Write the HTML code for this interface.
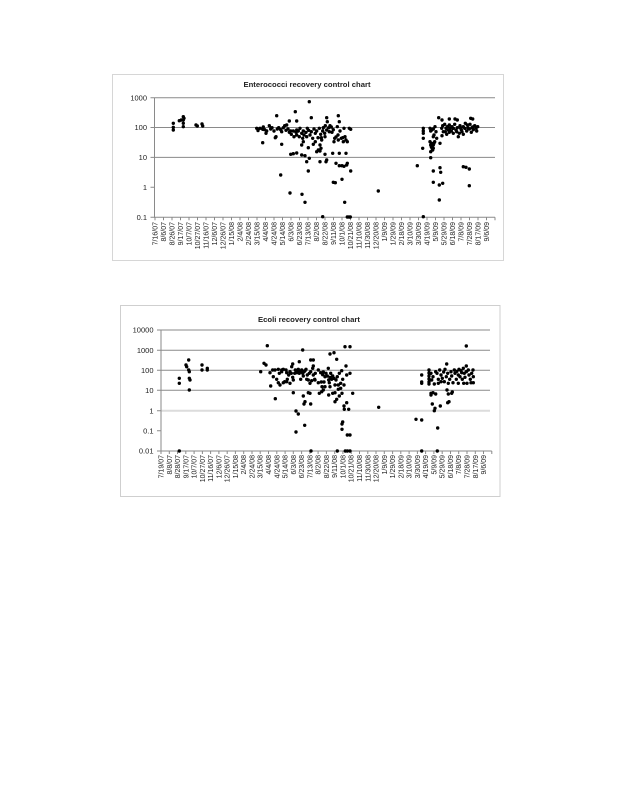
<!DOCTYPE html>
<html><head><meta charset="utf-8"><style>
html,body{margin:0;padding:0;background:#fff;width:618px;height:800px;overflow:hidden}
svg{position:absolute;left:0;top:0}
text{font-family:"Liberation Sans",sans-serif;fill:#222}
.xl{font-size:7px;text-anchor:end}
.yl{font-size:7.5px;text-anchor:end}
.t{font-size:7.5px;font-weight:bold;text-anchor:middle}
</style></head><body>
<svg width="618" height="800" viewBox="0 0 618 800" xmlns="http://www.w3.org/2000/svg">
<!-- Chart 1 -->
<rect x="112.5" y="74.5" width="391" height="186" fill="#fff" stroke="#d6d6d6" stroke-width="1"/>
<text class="t" x="307" y="87" textLength="127" lengthAdjust="spacingAndGlyphs">Enterococci recovery control chart</text>
<g stroke="#8a8a8a" stroke-width="1" fill="none">
<path d="M154.5 97.7H495M154.5 127.5H495M154.5 157.4H495"/>
<path d="M154.5 97.7V217.3H495"/>
<path d="M150.5 97.7h4M150.5 127.5h4M150.5 157.4h4M150.5 187.3h4M150.5 217.3h4"/>
<path d="M155 217.3v3M163.5 217.3v3M172 217.3v3M180.5 217.3v3M189 217.3v3M197.5 217.3v3M206 217.3v3M214.5 217.3v3M223 217.3v3M231.5 217.3v3M240 217.3v3M248.5 217.3v3M257 217.3v3M265.5 217.3v3M274 217.3v3M282.5 217.3v3M291 217.3v3M299.5 217.3v3M308 217.3v3M316.5 217.3v3M325 217.3v3M333.5 217.3v3M342 217.3v3M350.5 217.3v3M359 217.3v3M367.5 217.3v3M376 217.3v3M384.5 217.3v3M393 217.3v3M401.5 217.3v3M410 217.3v3M418.5 217.3v3M427 217.3v3M435.5 217.3v3M444 217.3v3M452.5 217.3v3M461 217.3v3M469.5 217.3v3M478 217.3v3M486.5 217.3v3M495 217.3v3"/>
</g>
<text class="yl" x="147" y="100.3">1000</text>
<text class="yl" x="147" y="130.1">100</text>
<text class="yl" x="147" y="160">10</text>
<text class="yl" x="147" y="189.9">1</text>
<text class="yl" x="147" y="219.9">0.1</text>
<g class="xl">
<text transform="translate(157.5,222) rotate(-90)">7/16/07</text>
<text transform="translate(166,222) rotate(-90)">8/6/07</text>
<text transform="translate(174.5,222) rotate(-90)">8/26/07</text>
<text transform="translate(183,222) rotate(-90)">9/17/07</text>
<text transform="translate(191.5,222) rotate(-90)">10/7/07</text>
<text transform="translate(200,222) rotate(-90)">10/27/07</text>
<text transform="translate(208.5,222) rotate(-90)">11/16/07</text>
<text transform="translate(217,222) rotate(-90)">12/6/07</text>
<text transform="translate(225.5,222) rotate(-90)">12/26/07</text>
<text transform="translate(234,222) rotate(-90)">1/15/08</text>
<text transform="translate(242.5,222) rotate(-90)">2/4/08</text>
<text transform="translate(251,222) rotate(-90)">2/24/08</text>
<text transform="translate(259.5,222) rotate(-90)">3/15/08</text>
<text transform="translate(268,222) rotate(-90)">4/4/08</text>
<text transform="translate(276.5,222) rotate(-90)">4/24/08</text>
<text transform="translate(285,222) rotate(-90)">5/14/08</text>
<text transform="translate(293.5,222) rotate(-90)">6/3/08</text>
<text transform="translate(302,222) rotate(-90)">6/23/08</text>
<text transform="translate(310.5,222) rotate(-90)">7/13/08</text>
<text transform="translate(319,222) rotate(-90)">8/2/08</text>
<text transform="translate(327.5,222) rotate(-90)">8/22/08</text>
<text transform="translate(336,222) rotate(-90)">9/11/08</text>
<text transform="translate(344.5,222) rotate(-90)">10/1/08</text>
<text transform="translate(353,222) rotate(-90)">10/21/08</text>
<text transform="translate(361.5,222) rotate(-90)">11/10/08</text>
<text transform="translate(370,222) rotate(-90)">11/30/08</text>
<text transform="translate(378.5,222) rotate(-90)">12/20/08</text>
<text transform="translate(387,222) rotate(-90)">1/9/09</text>
<text transform="translate(395.5,222) rotate(-90)">1/29/09</text>
<text transform="translate(404,222) rotate(-90)">2/18/09</text>
<text transform="translate(412.5,222) rotate(-90)">3/10/09</text>
<text transform="translate(421,222) rotate(-90)">3/30/09</text>
<text transform="translate(429.5,222) rotate(-90)">4/19/09</text>
<text transform="translate(438,222) rotate(-90)">5/9/09</text>
<text transform="translate(446.5,222) rotate(-90)">5/29/09</text>
<text transform="translate(455,222) rotate(-90)">6/18/09</text>
<text transform="translate(463.5,222) rotate(-90)">7/8/09</text>
<text transform="translate(472,222) rotate(-90)">7/28/09</text>
<text transform="translate(480.5,222) rotate(-90)">8/17/09</text>
<text transform="translate(489,222) rotate(-90)">9/6/09</text>
</g>
<path fill="none" stroke="#000" stroke-width="3.4" stroke-linecap="round" d="
M173.3 123.3h0M173.3 127.3h0M173.3 130h0M179.3 120.7h0M181.3 120h0M183.3 116.7h0M183.3 120h0M183.3 123.3h0M183.3 126.7h0M184 118.3h0M196 125h0M197.3 126h0M202 124h0M202.7 126h0
M309.3 101.7h0M295.3 111.7h0M276.7 115.7h0M311.3 117.7h0M338.3 115.7h0M326.7 117.7h0M289.3 121h0M296.7 121h0M262.7 142.7h0M281.7 144.3h0M301.7 145h0M313.3 144.3h0M320 145h0M321 148.3h0M318.3 150h0M308.3 147.7h0M290.7 154.3h0M293.3 153.7h0M296.7 153h0M301.7 155h0M305 155.7h0M316.7 151.7h0M320 151h0M325 154.3h0M332.7 153.3h0M339.3 153.3h0M346 153.3h0M309.3 158.3h0M306.7 161.7h0M320 161.7h0M326 161.7h0M326.7 160h0M336 163.3h0M339.3 165.7h0M342 165.7h0M344 166.3h0M346.7 165h0M347.3 163.3h0M350.7 171h0M308.3 171h0M280.7 175h0M342 179.3h0M333.3 182.3h0M335.3 182.7h0M290 193h0M302 194.3h0M305 202.3h0M344.7 202.3h0M322.7 216.7h0M347.3 217h0M349 217h0M350.3 217h0
M260 128.3h0M262.7 129.3h0M266 133.3h0M266.7 131h0M269.3 125.7h0M270.7 129h0M274 131h0M275.3 137.7h0M276 136.7h0M277.3 129h0M278.7 127.7h0M280.7 129.7h0M283.3 127.7h0M284.7 125.7h0M286 130.3h0M288 129h0M289.3 132.3h0M290.7 131h0M291.3 134.3h0M293.3 131h0M294 136.7h0M296 132.3h0M296.7 135h0M298.3 131h0M299.3 136.7h0M301.7 133.3h0M302.7 138.3h0M303.3 131h0M304 135h0M306 132.3h0M306.7 136.7h0M308.7 130.3h0M310 135h0M311.3 131.7h0M312.7 138.3h0M314 129h0M315.3 133.3h0M316.7 131h0M318 137.7h0M319.3 128.3h0M320.7 134.3h0M321.3 137.7h0M322.7 131h0M323.3 127.7h0M324.7 133.3h0M325.3 125.7h0M326.7 130h0M327.3 121.7h0M328.7 127.7h0M329.3 131.7h0M330 125.7h0M331.3 127h0M332 132.3h0M333.3 129.7h0M334.7 138.3h0M336 137h0M337.3 126.7h0M338 135h0M339.3 121.7h0M340 131h0M341.3 138.3h0M342.7 137.7h0M344 128.3h0M345 136.7h0M346 140h0M347.3 141.7h0M349.3 128.3h0M350.7 129.3h0M334 141.7h0M338.3 140h0M343.3 141.7h0M325 136.7h0M321.7 140h0M315.3 141.7h0M303.3 141.7h0M296.7 130h0M286.7 125h0M281.7 131.7h0M272 127.7h0M264.7 129.7h0M263.3 127h0M300 128.3h0M307.3 128.3h0M256.7 128.3h0M258 130.5h0
M378.3 191h0
M417.3 165.7h0M423.3 128.3h0M423.3 131h0M423.3 133.3h0M423.3 138.3h0M422.7 148.3h0M423.3 216.7h0M430 128.3h0M430.7 131h0M431.7 130h0M433.3 129h0M435 126.7h0M436 131.7h0M434 135h0M433.3 136.7h0M430 141.7h0M430.7 145h0M431.3 146.7h0M432 148.3h0M432.7 150h0M433.3 145h0M434 143.3h0M434.7 141.7h0M430.7 151.7h0M433.3 148.3h0M431.7 143.3h0M430.7 157.7h0M433.3 171h0M440 167.7h0M440.7 172.3h0M433.3 182.3h0M439.3 185h0M442.7 183.3h0M439.3 200h0M438.7 117.7h0M442 120h0M449.3 119h0M455 119h0M457.3 120h0M470.7 118.3h0M472.7 119h0M440 143.3h0M436.7 138.3h0M463.3 166.7h0M466 167.3h0M469.3 169h0M469.3 185.7h0
M441.7 128.3h0M442.7 125.7h0M443.3 131.7h0M444.7 124.3h0M446 128.3h0M447.3 126.7h0M448.3 130h0M449.3 125h0M450 128.3h0M451.3 131h0M452 126.7h0M453.3 128.3h0M454.7 124.3h0M456 130h0M457.3 127.7h0M458.3 136.7h0M459.3 133.3h0M460 125.7h0M461.3 129.7h0M462 131.7h0M463.3 126.7h0M464.7 128.3h0M465.3 123.3h0M466.7 131h0M468 127.7h0M469.3 129h0M470 124.3h0M471.3 132.3h0M472.7 127h0M473.3 129.7h0M474.7 125.7h0M476 128.3h0M476.7 131h0M477.7 126.7h0M446.7 134.3h0M453.3 133.3h0M463.3 134.3h0M467.3 125h0M472 127.7h0M442 135.7h0M460.7 128.3h0M456.7 131.7h0M449.3 132.3h0M445.3 131.7h0"/>

<!-- Chart 2 -->
<rect x="120.5" y="305.5" width="379.5" height="191" fill="#fff" stroke="#cfcfcf" stroke-width="1"/>
<text class="t" x="309" y="322" textLength="102" lengthAdjust="spacingAndGlyphs">Ecoli  recovery control chart</text>
<path d="M161 410.7H490" stroke="#dcdcdc" stroke-width="2"/>
<g stroke="#8a8a8a" stroke-width="1" fill="none">
<path d="M161 330H490M161 350.2H490M161 370.3H490M161 390.3H490"/>
<path d="M161 330V451H491.8"/>
<path d="M157 330h4M157 350.2h4M157 370.3h4M157 390.3h4M157 410.7h4M157 430.7h4M157 451h4"/>
<path d="M161 451v3M169.3 451v3M177.5 451v3M185.8 451v3M194.1 451v3M202.4 451v3M210.6 451v3M218.9 451v3M227.2 451v3M235.4 451v3M243.7 451v3M252 451v3M260.2 451v3M268.5 451v3M276.8 451v3M285.1 451v3M293.3 451v3M301.6 451v3M309.9 451v3M318.1 451v3M326.4 451v3M334.7 451v3M342.9 451v3M351.2 451v3M359.5 451v3M367.8 451v3M376 451v3M384.3 451v3M392.6 451v3M400.8 451v3M409.1 451v3M417.4 451v3M425.6 451v3M433.9 451v3M442.2 451v3M450.5 451v3M458.7 451v3M467 451v3M475.3 451v3M483.5 451v3M491.8 451v3"/>
</g>
<text class="yl" x="153.5" y="332.6">10000</text>
<text class="yl" x="153.5" y="352.8">1000</text>
<text class="yl" x="153.5" y="372.9">100</text>
<text class="yl" x="153.5" y="392.9">10</text>
<text class="yl" x="153.5" y="413.3">1</text>
<text class="yl" x="153.5" y="433.3">0.1</text>
<text class="yl" x="153.5" y="453.6">0.01</text>
<g class="xl">
<text transform="translate(163.5,455) rotate(-90)">7/19/07</text>
<text transform="translate(171.8,455) rotate(-90)">8/8/07</text>
<text transform="translate(180,455) rotate(-90)">8/28/07</text>
<text transform="translate(188.3,455) rotate(-90)">9/17/07</text>
<text transform="translate(196.6,455) rotate(-90)">10/7/07</text>
<text transform="translate(204.9,455) rotate(-90)">10/27/07</text>
<text transform="translate(213.1,455) rotate(-90)">11/16/07</text>
<text transform="translate(221.4,455) rotate(-90)">12/6/07</text>
<text transform="translate(229.7,455) rotate(-90)">12/26/07</text>
<text transform="translate(237.9,455) rotate(-90)">1/15/08</text>
<text transform="translate(246.2,455) rotate(-90)">2/4/08</text>
<text transform="translate(254.5,455) rotate(-90)">2/24/08</text>
<text transform="translate(262.7,455) rotate(-90)">3/15/08</text>
<text transform="translate(271,455) rotate(-90)">4/4/08</text>
<text transform="translate(279.3,455) rotate(-90)">4/24/08</text>
<text transform="translate(287.6,455) rotate(-90)">5/14/08</text>
<text transform="translate(295.8,455) rotate(-90)">6/3/08</text>
<text transform="translate(304.1,455) rotate(-90)">6/23/08</text>
<text transform="translate(312.4,455) rotate(-90)">7/13/08</text>
<text transform="translate(320.6,455) rotate(-90)">8/2/08</text>
<text transform="translate(328.9,455) rotate(-90)">8/22/08</text>
<text transform="translate(337.2,455) rotate(-90)">9/11/08</text>
<text transform="translate(345.4,455) rotate(-90)">10/1/08</text>
<text transform="translate(353.7,455) rotate(-90)">10/21/08</text>
<text transform="translate(362,455) rotate(-90)">11/10/08</text>
<text transform="translate(370.3,455) rotate(-90)">11/30/08</text>
<text transform="translate(378.5,455) rotate(-90)">12/20/08</text>
<text transform="translate(386.8,455) rotate(-90)">1/9/09</text>
<text transform="translate(395.1,455) rotate(-90)">1/29/09</text>
<text transform="translate(403.3,455) rotate(-90)">2/18/09</text>
<text transform="translate(411.6,455) rotate(-90)">3/10/09</text>
<text transform="translate(419.9,455) rotate(-90)">3/30/09</text>
<text transform="translate(428.1,455) rotate(-90)">4/19/09</text>
<text transform="translate(436.4,455) rotate(-90)">5/9/09</text>
<text transform="translate(444.7,455) rotate(-90)">5/29/09</text>
<text transform="translate(453,455) rotate(-90)">6/18/09</text>
<text transform="translate(461.2,455) rotate(-90)">7/8/09</text>
<text transform="translate(469.5,455) rotate(-90)">7/28/09</text>
<text transform="translate(477.8,455) rotate(-90)">8/17/09</text>
<text transform="translate(486,455) rotate(-90)">9/6/09</text>
</g>
<path fill="none" stroke="#000" stroke-width="3.4" stroke-linecap="round" d="
M179.3 378.3h0M179.3 383.3h0M179.3 451h0M186 365h0M186.7 366.7h0M188.7 360h0M188.7 370h0M189.3 371.7h0M189.3 378.3h0M190 380h0M189.3 390h0M202 365h0M202 370h0M207.3 368.3h0M207.3 370h0
M267.3 345.7h0M302.7 350h0M345 346.7h0M350 346.7h0M330 354h0M334 352.7h0M336.7 359.3h0M310.7 360h0M313.3 360h0M299.3 361.7h0M292.7 364h0M291.7 366.7h0M264 363.3h0M266 365h0M346 366h0M313.3 366h0M260.7 371.7h0M350 373.3h0M270.7 386h0M275.3 398.7h0M293.3 392.7h0M303.3 396h0M305 401.7h0M304 404h0M308.3 392.7h0M310 393.3h0M310.7 404h0M319.3 393.3h0M321.7 391.7h0M323.3 390h0M328.7 395h0M332.7 393.3h0M335 392.7h0M335 401.7h0M336.7 399.3h0M339.3 396h0M342 393.3h0M346.7 402.7h0M344 406h0M348.7 409.3h0M344.3 409.3h0M352.7 393.3h0M296 411h0M298.3 414h0M304.7 425.3h0M296 432h0M342.7 422h0M342 424h0M342 429.3h0M347.3 435h0M350 435h0M311 451h0M337.3 451h0M345.3 451h0M347.3 451h0M350 451h0M270 372.7h0M272.7 370h0M278.3 369.3h0M281.7 370h0M283.3 369.3h0M286 370h0
M276.7 379.3h0M278.3 382.7h0M280 385h0M279.3 373.3h0M281.7 371.7h0M283.3 382.7h0M284.7 381.7h0M286.7 372.7h0M287.3 379.3h0M288.7 375h0M290 371.7h0M291.3 373.3h0M292.7 377.3h0M293.3 380h0M294.7 373.3h0M295.3 370h0M296.7 372.7h0M297.3 370.7h0M298.3 369.3h0M299.3 373.3h0M300 371.7h0M300.7 379.3h0M301.7 370h0M302.7 373.3h0M303.3 376h0M304 371.7h0M305 370.7h0M306 369.3h0M306.7 379.3h0M307.3 375h0M308.3 380h0M309.3 373.3h0M310.7 371.7h0M311.7 380.7h0M312.7 368.3h0M313.3 375h0M314.7 379.3h0M315.3 373.3h0M318.3 370h0M320.7 372.7h0M321.3 382h0M322.7 374.7h0M323.3 372h0M324 382h0M325 376.7h0M326 373.3h0M327.3 376h0M328.3 368.3h0M328.7 380h0M329.3 382.7h0M330 377.3h0M330.7 373.3h0M331.7 379.3h0M332.7 376h0M334 378.3h0M335 385h0M336 380h0M337.3 376.7h0M338.3 385h0M339.3 373.3h0M340.7 383.3h0M341.7 370.7h0M342.7 379.3h0M344 385h0M346.7 375h0M322 386.7h0M325 386.7h0M330 386.7h0M338.3 389.3h0M340.7 388.3h0M315 380h0M310 383.3h0M318.3 382.7h0M290 383.3h0M286.7 381.7h0M275 370h0M273.3 376.7h0
M378.7 407.3h0
M466.3 346h0M446.7 364h0M466.3 366h0M421.7 375h0M421.7 382h0M421.7 383.3h0M429 370h0M429 373h0M429 376h0M429 379h0M429 382h0M429 384h0
M431 373.3h0M431.7 380h0M433 376.7h0M434.3 384h0M435.7 371.7h0M437 373.3h0M438.3 379.3h0M439.7 370h0M441 375h0M442.3 378.3h0M443.7 372h0M444.3 381.7h0M445 369.3h0M446.3 376.7h0M447.7 373.3h0M448.3 383.3h0M449.7 379.3h0M451 371.7h0M451.7 376h0M453 382.7h0M454.3 370h0M455 373.3h0M456.3 379.3h0M457 371.3h0M458.3 375h0M459 369.3h0M460 376.7h0M461 370.7h0M461.7 372.7h0M462.3 379.3h0M463.3 368.3h0M464.3 373.3h0M465 377.3h0M466.3 371.7h0M467 383.3h0M468.3 370h0M469 375h0M470.3 379.3h0M471 382.7h0M471.7 373.3h0M473 370h0M473.3 376.7h0M473.3 382.7h0M438.3 383.3h0M441 381.7h0M458.3 383.3h0M463.7 383.3h0
M431 393.3h0M433 392.7h0M435.7 394h0M431 395h0M447 390h0M448.3 394h0M451.7 393.3h0M452.3 392h0M432.3 404h0M435 408.3h0M434.3 410.7h0M440.3 406h0M447.7 402.7h0M449 401.7h0M416 419.3h0M421.7 420h0M437.7 428h0M421.7 451h0M437.3 451h0"/>
</svg>
</body></html>
